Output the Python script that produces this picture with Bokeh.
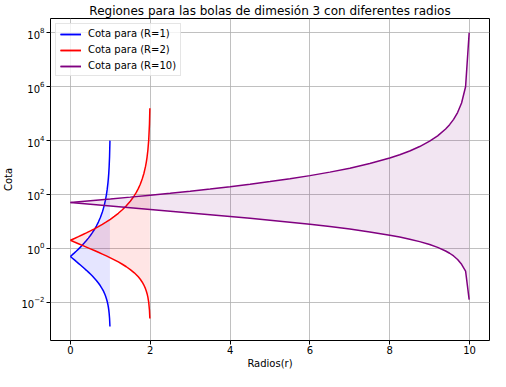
from bokeh.plotting import figure
from bokeh.models import Range1d, FixedTicker, Legend, LegendItem
from bokeh.embed import file_html
from bokeh.resources import INLINE

# ---- data (radius r, upper / lower bound "Cota") ----
r_R1 = [0, 0.05, 0.1, 0.15, 0.2, 0.25, 0.3, 0.35, 0.4, 0.45, 0.5, 0.55, 0.6, 0.65,
        0.7, 0.75, 0.8, 0.825, 0.85, 0.875, 0.9, 0.92, 0.94, 0.95, 0.96, 0.97, 0.98, 0.99]
up_R1 = [0.5, 0.582, 0.679, 0.796, 0.938, 1.111, 1.327, 1.598, 1.944, 2.397, 3.0, 3.827,
         5.0, 6.735, 9.444, 14.0, 22.5, 29.8, 41.11, 60.0, 95.0, 150.0, 269.4, 390.0,
         612.5, 1094, 2475, 9950]
lo_R1 = [0.5, 0.431, 0.372, 0.321, 0.278, 0.24, 0.207, 0.178, 0.153, 0.131, 0.111, 0.0937,
         0.0781, 0.0643, 0.0519, 0.0408, 0.0309, 0.0263, 0.0219, 0.0178, 0.01385, 0.01085,
         0.00797, 0.00658, 0.00521, 0.00387, 0.00255, 0.00126]

r_R2 = [0, 0.1, 0.2, 0.3, 0.4, 0.5, 0.6, 0.7, 0.8, 0.9, 1.0, 1.1, 1.2, 1.3, 1.4, 1.5,
        1.6, 1.65, 1.7, 1.75, 1.8, 1.84, 1.88, 1.9, 1.92, 1.94, 1.96, 1.98, 1.99]
up_R2 = [2, 2.327, 2.716, 3.183, 3.75, 4.444, 5.306, 6.391, 7.778, 9.587, 12, 15.31, 20,
         26.94, 37.78, 56, 90, 119.2, 164.4, 240, 380, 600, 1078, 1560, 2450, 4378, 9900,
         39800, 159600]
lo_R2 = [2, 1.723, 1.488, 1.285, 1.111, 0.96, 0.828, 0.713, 0.612, 0.523, 0.444, 0.375,
         0.3125, 0.257, 0.2076, 0.1633, 0.1235, 0.1051, 0.0877, 0.0711, 0.0554, 0.0434,
         0.0319, 0.0263, 0.0208, 0.01546, 0.0102, 0.00505, 0.00251]

r_R10 = [0, 0.5, 1, 1.5, 2, 2.5, 3, 3.5, 4, 4.5, 5, 5.5, 6, 6.5, 7, 7.5, 8, 8.25, 8.5,
         8.75, 9, 9.2, 9.4, 9.5, 9.6, 9.7, 9.8, 9.9, 9.99]
up_R10 = [50, 58.17, 67.9, 79.59, 93.75, 111.1, 132.7, 159.8, 194.4, 239.7, 300, 382.7,
          500, 673.5, 944.4, 1400, 2250, 2980, 4111, 6000, 9500, 15000, 26940, 39000,
          61250, 109400, 247500, 995000, 99950000]
lo_R10 = [50, 43.08, 37.19, 32.13, 27.78, 24, 20.71, 17.83, 15.31, 13.08, 11.11, 9.365,
          7.813, 6.428, 5.19, 4.082, 3.086, 2.627, 2.191, 1.778, 1.385, 1.085, 0.797,
          0.658, 0.521, 0.387, 0.255, 0.144, 0.0125]

labels = ["Cota para (R=1)", "Cota para (R=2)", "Cota para (R=10)"]
colors = ["blue", "red", "purple"]
x_ticks = [0, 2, 4, 6, 8, 10]
y_ticks = [1e-2, 1e0, 1e2, 1e4, 1e6, 1e8]

FONT = "DejaVu Sans"

p = figure(width=490, height=371, y_axis_type="log",
           x_range=Range1d(-0.4995, 10.4995),
           y_range=Range1d(10 ** -3.42, 10 ** 8.53),
           output_backend="svg", toolbar_location=None,
           title="Regiones para las bolas de dimesión 3 con diferentes radios",
           x_axis_label="Radios(r)", y_axis_label="Cota",
           min_border_left=45, min_border_right=1, min_border_top=15,
           min_border_bottom=28)

p.title.text_font = FONT
p.title.text_font_size = "12px"
p.title.text_font_style = "normal"
p.title.align = "center"
p.title.standoff = 2
p.title.offset = 0
p.title.text_color = "black"

p.outline_line_color = "black"
p.outline_line_width = 1
p.outline_line_alpha = 1

for ax in (p.xaxis[0], p.yaxis[0]):
    ax.axis_line_color = None
    ax.major_tick_out = 4
    ax.major_tick_in = 0
    ax.major_tick_line_color = "black"
    ax.minor_tick_line_color = None
    ax.major_label_text_font = FONT
    ax.major_label_text_font_size = "10px"
    ax.major_label_text_color = "black"
    ax.axis_label_text_font = FONT
    ax.axis_label_text_font_size = "10px"
    ax.axis_label_text_font_style = "normal"
    ax.axis_label_text_color = "black"
    ax.major_label_standoff = 1
    ax.axis_label_standoff = 1

p.yaxis[0].major_label_standoff = 2
p.yaxis[0].axis_label_standoff = 4

p.xaxis[0].ticker = FixedTicker(ticks=x_ticks, minor_ticks=[])
p.yaxis[0].ticker = FixedTicker(ticks=y_ticks, minor_ticks=[])

for g in (p.xgrid[0], p.ygrid[0]):
    g.grid_line_color = "#b0b0b0"
    g.grid_line_width = 0.8

series = [(r_R1, up_R1, lo_R1), (r_R2, up_R2, lo_R2), (r_R10, up_R10, lo_R10)]
items = []
for (r, up, lo), lab, c in zip(series, labels, colors):
    p.varea(x=r, y1=lo, y2=up, fill_color=c, fill_alpha=0.1)
    l1 = p.line(r, up, line_color=c, line_width=1.5)
    l2 = p.line(r, lo, line_color=c, line_width=1.5)
    items.append(LegendItem(label=lab, renderers=[l1, l2]))

legend = Legend(items=items, location="top_left")
legend.label_text_font = FONT
legend.label_text_font_size = "10px"
legend.label_text_color = "black"
legend.label_height = 10
legend.glyph_height = 10
legend.glyph_width = 21
legend.label_width = 10
legend.spacing = 5
legend.padding = 4
legend.margin = 5
legend.label_standoff = 7
legend.border_line_color = "#cccccc"
legend.border_line_width = 1
legend.background_fill_alpha = 0.8
p.add_layout(legend)

open("out.html", "w").write(file_html(p, INLINE))
